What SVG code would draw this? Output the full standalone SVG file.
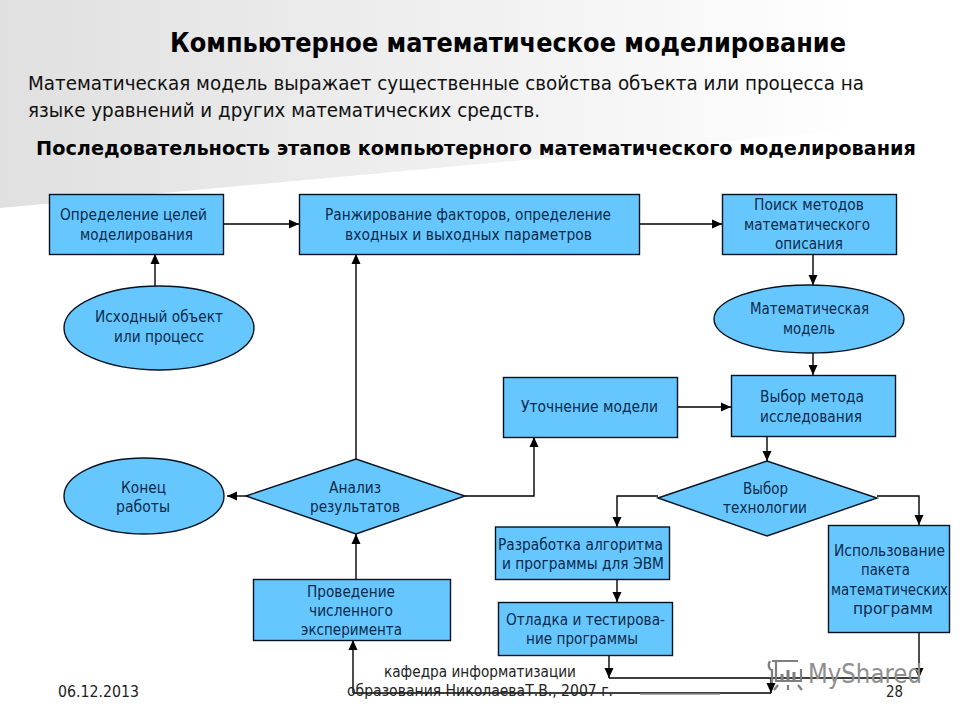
<svg xmlns="http://www.w3.org/2000/svg" width="960" height="720" viewBox="0 0 960 720">
<style>
text{font-family:"DejaVu Sans","Liberation Sans",sans-serif}
.n{fill:#66c7ff;stroke:#06121f;stroke-width:1.4}
.l{font-size:15.5px;fill:#0b2a4a}
.f{font-size:15.5px;fill:#222}
.c{fill:none;stroke:#000;stroke-width:1.4}
.a{marker-end:url(#arrow)}
</style>
<defs>
<linearGradient id="bg" x1="0" y1="0" x2="1" y2="0">
<stop offset="0" stop-color="#e0e0e0"/><stop offset="0.45" stop-color="#efefef"/><stop offset="0.9" stop-color="#ffffff"/>
</linearGradient>
<marker id="arrow" markerUnits="userSpaceOnUse" markerWidth="10" markerHeight="10" viewBox="0 0 10 10" refX="10" refY="5" orient="auto">
<path d="M0 0.5L10 5L0 9.5Z" fill="#000"/>
</marker>
</defs>
<polygon id="background" points="0,0 960,0 960,120 0,208" fill="url(#bg)"/>
<text x="170" y="52" font-size="27" font-weight="700" fill="#000" textLength="676" lengthAdjust="spacingAndGlyphs">Компьютерное математическое моделирование</text>
<text x="28" y="90" font-size="19.5" fill="#111" textLength="836" lengthAdjust="spacingAndGlyphs">Математическая модель выражает существенные свойства объекта или процесса на</text>
<text x="28" y="117" font-size="19.5" fill="#111" textLength="512" lengthAdjust="spacingAndGlyphs">языке уравнений и других математических средств.</text>
<text x="36" y="155" font-size="20" font-weight="700" fill="#000" textLength="880" lengthAdjust="spacingAndGlyphs">Последовательность этапов компьютерного математического моделирования</text>

<g id="connectors">
<path class="c a" d="M223 224H299"/>
<path class="c a" d="M639 224H722"/>
<path class="c a" d="M155 286V254"/>
<path class="c a" d="M356 459V254"/>
<path class="c a" d="M813 254V285"/>
<path class="c a" d="M813 353V375"/>
<path class="c a" d="M677 407H731"/>
<path class="c a" d="M767 436V461"/>
<path class="c a" d="M465 496H534V437"/>
<path class="c a" d="M246 496H227"/>
<path class="c a" d="M356 579V534"/>
<path class="c a" d="M353 693V640"/>
<path class="c a" d="M658 496H617V527"/>
<path class="c a" d="M877 496H919V525"/>
<path class="c a" d="M617 579V602"/>
<path class="c a" d="M609 655V678"/>
<path class="c" d="M609 678H920"/>
<path class="c a" d="M919 632V678"/>
<path class="c a" d="M771 678V693"/>
<path class="c" d="M353 693H771"/>
<path d="M640 694H720" fill="none" stroke="#8a8a8a" stroke-width="1.6"/>
</g>

<g id="node-goals"><rect class="n" x="49.5" y="194.5" width="174" height="60"/>
<text class="l" x="60" y="220" textLength="147" lengthAdjust="spacingAndGlyphs">Определение целей</text>
<text class="l" x="80" y="240" textLength="113" lengthAdjust="spacingAndGlyphs">моделирования</text></g>
<g id="node-ranking"><rect class="n" x="299.5" y="194.5" width="340" height="60"/>
<text class="l" x="325" y="220" textLength="286" lengthAdjust="spacingAndGlyphs">Ранжирование факторов, определение</text>
<text class="l" x="345" y="240" textLength="247" lengthAdjust="spacingAndGlyphs">входных и выходных параметров</text></g>
<g id="node-search"><rect class="n" x="722.5" y="194.5" width="174" height="60"/>
<text class="l" x="754" y="210" textLength="110" lengthAdjust="spacingAndGlyphs">Поиск методов</text>
<text class="l" x="744" y="230" textLength="126" lengthAdjust="spacingAndGlyphs">математического</text>
<text class="l" x="775" y="249" textLength="68" lengthAdjust="spacingAndGlyphs">описания</text></g>
<g id="node-source"><ellipse class="n" cx="159" cy="328" rx="95" ry="42"/>
<text class="l" x="95" y="322" textLength="128" lengthAdjust="spacingAndGlyphs">Исходный объект</text>
<text class="l" x="114" y="342" textLength="90" lengthAdjust="spacingAndGlyphs">или процесс</text></g>
<g id="node-model"><ellipse class="n" cx="809" cy="319" rx="95" ry="34"/>
<text class="l" x="750" y="314" textLength="119" lengthAdjust="spacingAndGlyphs">Математическая</text>
<text class="l" x="783" y="334" textLength="52" lengthAdjust="spacingAndGlyphs">модель</text></g>
<g id="node-refine"><rect class="n" x="503.5" y="377.5" width="174" height="60"/>
<text class="l" x="521" y="412" textLength="137" lengthAdjust="spacingAndGlyphs">Уточнение модели</text></g>
<g id="node-method"><rect class="n" x="731.5" y="375.5" width="164" height="61"/>
<text class="l" x="760" y="402" textLength="104" lengthAdjust="spacingAndGlyphs">Выбор метода</text>
<text class="l" x="760" y="422" textLength="102" lengthAdjust="spacingAndGlyphs">исследования</text></g>
<g id="node-tech"><polygon class="n" points="658,498 767,461 877,498 767,536"/>
<text class="l" x="743" y="494" textLength="45" lengthAdjust="spacingAndGlyphs">Выбор</text>
<text class="l" x="723" y="513" textLength="84" lengthAdjust="spacingAndGlyphs">технологии</text></g>
<g id="node-develop"><rect class="n" x="495.5" y="527" width="174" height="52.5"/>
<text class="l" x="498" y="550" textLength="165" lengthAdjust="spacingAndGlyphs">Разработка алгоритма</text>
<text class="l" x="502" y="569" textLength="162" lengthAdjust="spacingAndGlyphs">и программы для ЭВМ</text></g>
<g id="node-debug"><rect class="n" x="498.5" y="602.5" width="174" height="53"/>
<text class="l" x="506" y="625" textLength="159" lengthAdjust="spacingAndGlyphs">Отладка и тестирова-</text>
<text class="l" x="526" y="644" textLength="112" lengthAdjust="spacingAndGlyphs">ние программы</text></g>
<g id="node-package"><rect class="n" x="828.5" y="525.5" width="121" height="107"/>
<text class="l" x="834" y="556" textLength="111" lengthAdjust="spacingAndGlyphs">Использование</text>
<text class="l" x="861" y="575" textLength="49" lengthAdjust="spacingAndGlyphs">пакета</text>
<text class="l" x="831" y="595" textLength="117" lengthAdjust="spacingAndGlyphs">математических</text>
<text class="l" x="853" y="614" textLength="80" lengthAdjust="spacingAndGlyphs">программ</text></g>
<g id="node-end"><ellipse class="n" cx="144" cy="496" rx="80" ry="38"/>
<text class="l" x="121" y="493" textLength="45" lengthAdjust="spacingAndGlyphs">Конец</text>
<text class="l" x="116" y="512" textLength="54" lengthAdjust="spacingAndGlyphs">работы</text></g>
<g id="node-analysis"><polygon class="n" points="246,496 356,459 465,496 356,534"/>
<text class="l" x="329" y="493" textLength="52" lengthAdjust="spacingAndGlyphs">Анализ</text>
<text class="l" x="310" y="512" textLength="90" lengthAdjust="spacingAndGlyphs">результатов</text></g>
<g id="node-experiment"><rect class="n" x="253.5" y="579.5" width="197" height="61"/>
<text class="l" x="307" y="597" textLength="88" lengthAdjust="spacingAndGlyphs">Проведение</text>
<text class="l" x="309" y="616" textLength="84" lengthAdjust="spacingAndGlyphs">численного</text>
<text class="l" x="301" y="635" textLength="101" lengthAdjust="spacingAndGlyphs">эксперимента</text></g>

<g id="footer">
<text class="f" x="58" y="697" textLength="81" lengthAdjust="spacingAndGlyphs">06.12.2013</text>
<text class="f" x="384" y="677" textLength="192" lengthAdjust="spacingAndGlyphs">кафедра информатизации</text>
<text class="f" x="347" y="696" textLength="266" lengthAdjust="spacingAndGlyphs">образования НиколаеваТ.В., 2007 г.</text>
<text class="f" x="886" y="697" textLength="17" lengthAdjust="spacingAndGlyphs">28</text>
</g>
<g id="watermark" fill="none" stroke="#7f7f7f" stroke-width="2.2">
<path d="M772 661H798M776 661V681H801V669"/>
<path d="M770 661C767 666 770 670 772 670V683"/>
<path d="M782 680V674M788 680V670M794 680V672" stroke-width="3"/>
<path d="M778 685L774 690M788 685V690M798 685L802 690"/>
<text x="808" y="683" font-size="26" fill="#8f8f8f" stroke="none" textLength="114" lengthAdjust="spacingAndGlyphs">MyShared</text>
</g>
</svg>
